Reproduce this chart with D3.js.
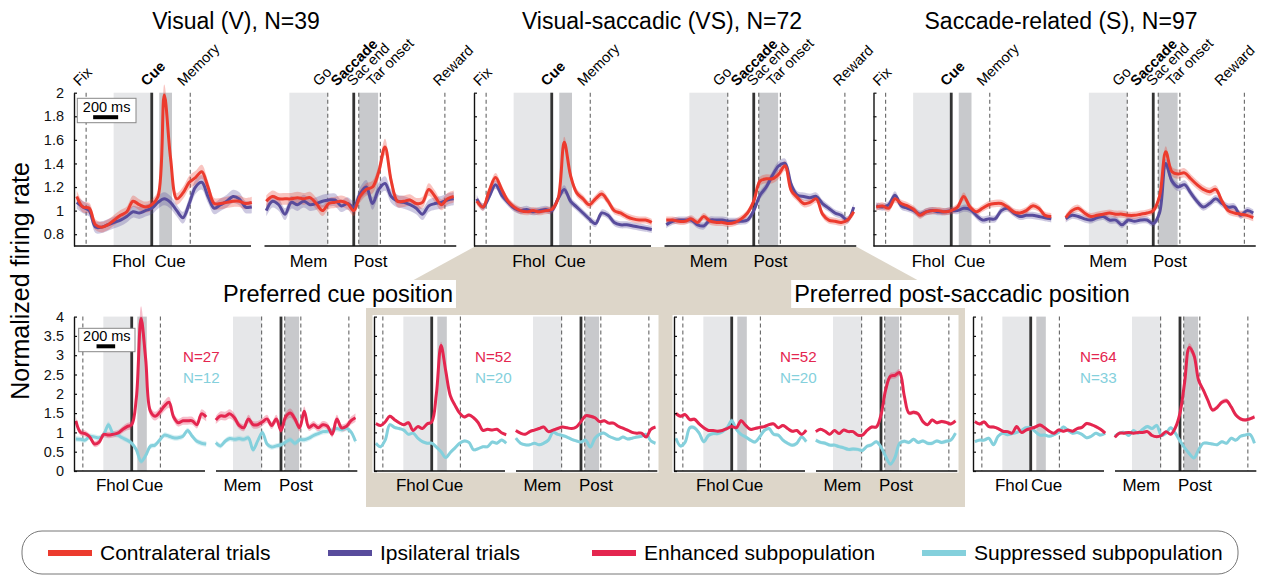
<!DOCTYPE html>
<html>
<head>
<meta charset="utf-8">
<script src="https://cdn.jsdelivr.net/npm/d3@7"></script>
<style>
  body { margin: 0; background: #fff; }
  svg { display: block; font-family: "Liberation Sans", Arial, Helvetica, sans-serif; }
</style>
</head>
<body>
<svg id="fig" width="1263" height="578"></svg>
<script>
// ---------- data (times in ms, values = normalized firing rate) ----------
const cueT = [-600,-550,-500,-450,-400,-350,-300,-250,-200,-150,-100,-50,0,50,100,150,200,250,300,350,400,450,500,550,600,650,700,750,800];
const sacT = [-700,-650,-600,-550,-500,-450,-400,-350,-300,-250,-200,-150,-100,-50,0,50,100,150,200,250,300,350,400,450,500,550,600,650,700,750,800];

const topTitles = ["Visual (V), N=39", "Visual-saccadic (VS), N=72", "Saccade-related (S), N=97"];
const bottomTitles = ["Preferred cue position", "Preferred post-saccadic position"];

// top row: contralateral / ipsilateral, for V, VS, S
const contraCue = [
  [1.12,1.03,1.02,0.88,0.86,0.88,0.92,0.96,0.99,1.08,1.05,1.03,1.05,1.12,1.98,1.45,1.10,1.15,1.24,1.28,1.33,1.20,1.06,1.06,1.07,1.08,1.08,1.06,1.07],
  [1.08,1.03,1.17,1.28,1.18,1.08,1.03,1.00,0.99,1.00,0.99,1.00,1.01,1.10,1.58,1.30,1.15,1.10,1.05,1.10,1.14,1.08,1.00,0.98,0.95,0.93,0.92,0.92,0.90],
  [1.03,1.04,1.02,1.10,1.06,1.04,1.01,0.96,0.99,1.00,1.00,0.99,1.00,1.03,1.12,1.03,0.99,1.02,1.05,1.06,1.06,1.03,0.99,0.98,1.00,1.04,1.02,0.96,0.95]
];
const ipsiCue = [
  [1.07,1.03,1.00,0.86,0.86,0.88,0.90,0.92,0.95,0.99,0.98,1.00,1.02,1.07,1.10,1.07,1.00,0.94,1.06,1.20,1.24,1.12,1.02,1.05,1.08,1.12,1.10,1.03,1.03],
  [1.10,1.03,1.12,1.22,1.13,1.07,1.02,1.00,1.01,0.99,1.00,1.01,1.00,1.10,1.18,1.08,1.03,0.98,0.93,0.89,0.98,0.96,0.90,0.88,0.88,0.87,0.86,0.85,0.84],
  [1.04,1.03,1.05,1.13,1.04,1.02,1.00,0.97,0.99,1.00,0.99,0.99,1.00,1.00,1.02,1.01,0.96,0.92,0.93,0.93,1.00,1.02,0.98,0.95,0.96,0.96,0.95,0.94,0.93]
];
const contraSac = [
  [1.08,1.12,1.10,1.10,1.10,1.11,1.10,1.11,1.06,1.00,1.06,1.07,1.08,1.06,1.00,1.12,1.18,1.20,1.33,1.54,1.25,1.08,1.08,1.09,1.06,1.07,1.18,1.12,1.05,1.10,1.12],
  [0.92,0.92,0.91,0.91,0.93,0.90,0.95,0.91,0.90,0.90,0.89,0.90,0.93,0.98,1.08,1.25,1.27,1.27,1.31,1.38,1.17,1.11,1.06,1.07,1.10,0.97,0.92,0.91,0.90,0.92,0.99],
  [0.94,1.00,1.02,0.98,0.95,0.96,0.97,0.98,0.97,0.97,0.96,0.96,0.97,0.98,1.00,1.12,1.50,1.33,1.31,1.32,1.27,1.22,1.18,1.16,1.18,1.08,1.00,0.98,0.97,0.96,0.94]
];
const ipsiSac = [
  [1.00,1.08,1.05,0.97,1.07,1.05,1.08,1.05,1.06,1.08,1.09,1.09,1.04,1.06,1.03,1.14,1.20,1.06,1.18,1.23,1.12,1.08,1.07,1.05,1.02,0.97,1.04,1.06,1.07,1.09,1.10],
  [0.88,0.91,0.92,0.92,0.92,0.88,0.87,0.92,0.92,0.92,0.91,0.91,0.91,0.92,1.00,1.13,1.20,1.30,1.38,1.40,1.22,1.13,1.12,1.11,1.12,1.06,1.02,0.98,0.96,0.92,1.03],
  [0.93,0.96,0.95,0.93,0.92,0.94,0.95,0.92,0.92,0.88,0.92,0.91,0.92,0.92,0.89,0.98,1.40,1.25,1.20,1.22,1.15,1.08,1.03,1.06,1.10,1.06,1.03,1.03,0.96,1.00,0.98]
];
const contraSem = [0.045, 0.03, 0.03];
const ipsiSem = [0.05, 0.03, 0.03];

// bottom row: enhanced / suppressed subpopulations (V, VS | VS, S)
const enhCue = [
  [1.30,1.00,0.97,0.88,0.70,0.75,0.95,0.93,0.95,0.98,1.07,1.15,1.20,1.90,3.95,2.90,1.55,1.42,1.52,1.68,1.78,1.40,1.25,1.30,1.30,1.30,1.20,1.48,1.40],
  [1.23,1.18,1.27,1.42,1.33,1.25,1.20,1.25,1.05,1.15,1.10,1.22,1.27,2.00,3.25,2.60,1.95,1.70,1.50,1.40,1.45,1.38,1.25,1.05,1.08,1.06,1.08,0.99,0.94],
  [1.49,1.42,1.46,1.33,1.34,1.22,1.12,1.05,1.05,1.03,1.05,1.10,1.15,1.12,1.30,1.18,1.08,1.10,1.13,1.15,1.20,1.22,1.12,1.18,1.10,1.03,1.05,0.95,1.06],
  [1.28,1.22,1.27,1.15,1.14,1.10,1.03,1.02,0.98,1.15,1.00,1.06,1.10,1.14,1.19,1.12,1.03,0.98,1.06,1.03,1.06,1.03,1.10,1.13,1.23,1.20,1.15,1.08,0.98]
];
const supCue = [
  [0.83,0.82,0.80,0.90,0.88,0.86,0.95,1.20,0.97,0.93,0.86,0.80,0.72,0.55,0.25,0.40,0.64,0.67,0.80,0.93,0.90,0.86,0.86,0.90,1.05,0.90,0.77,0.72,0.70],
  [0.72,0.63,0.80,1.20,1.13,1.10,1.06,0.95,0.98,0.85,0.76,0.72,0.72,0.62,0.50,0.35,0.48,0.60,0.72,0.78,0.74,0.55,0.58,0.63,0.63,0.75,0.72,0.80,0.72],
  [0.85,0.65,0.75,1.12,1.12,0.98,0.76,0.92,0.97,0.97,1.02,1.12,1.30,1.08,0.95,0.88,0.80,0.75,0.88,1.05,1.10,0.95,0.93,0.80,0.72,0.67,0.72,0.88,0.76],
  [0.76,0.80,0.80,0.85,0.68,0.90,0.98,0.94,0.97,1.00,1.05,1.12,1.12,1.02,0.93,0.93,0.90,0.94,1.00,1.14,1.05,0.98,1.00,0.95,0.86,0.90,0.98,0.93,0.98]
];
const enhSac = [
  [1.32,1.43,1.42,1.48,1.38,1.18,1.12,1.35,1.20,1.20,1.27,1.35,1.18,1.35,1.05,1.40,1.50,1.35,1.12,1.55,1.13,1.20,1.12,1.20,1.16,0.95,1.35,1.12,1.15,1.30,1.38],
  [1.05,0.98,0.95,1.02,1.06,1.10,1.14,1.02,1.06,1.10,1.14,1.12,1.10,1.14,1.28,1.43,1.42,1.38,1.28,1.30,1.24,1.24,1.16,1.11,1.06,1.00,0.98,0.98,0.88,1.08,1.14],
  [1.02,1.08,1.03,0.95,1.05,0.97,1.06,1.02,1.02,0.93,0.93,1.05,1.14,1.14,1.45,2.10,2.45,2.48,2.55,1.95,1.50,1.52,1.48,1.28,1.20,1.32,1.25,1.28,1.26,1.22,1.30],
  [0.87,0.98,0.98,1.00,0.98,1.00,1.00,1.02,0.92,0.89,0.92,1.02,0.95,1.12,1.50,2.30,3.20,3.00,2.35,2.10,1.83,1.58,1.65,1.78,1.82,1.66,1.45,1.35,1.32,1.35,1.40]
];
const supSac = [
  [0.73,0.65,0.77,0.84,0.82,0.84,0.82,0.86,0.55,0.78,1.00,0.70,0.62,0.65,0.68,0.75,0.81,0.72,0.81,0.81,0.85,0.92,0.97,1.02,1.03,1.06,1.10,1.07,1.11,1.02,0.77],
  [0.85,0.72,0.68,0.68,0.72,0.68,0.72,0.80,1.00,0.95,0.92,0.88,0.82,0.78,0.75,0.80,0.62,0.85,0.95,0.98,0.90,0.85,0.82,0.88,0.83,0.85,0.88,0.90,0.95,0.78,0.72],
  [0.80,0.74,0.72,0.67,0.67,0.63,0.60,0.56,0.57,0.56,0.53,0.64,0.68,0.76,0.62,0.38,0.18,0.35,0.72,0.77,0.74,0.82,0.74,0.78,0.72,0.72,0.78,0.74,0.77,0.80,0.98],
  [0.90,0.98,1.00,0.92,1.05,0.98,1.08,1.15,1.10,1.18,0.92,0.98,1.12,0.98,0.78,0.60,0.45,0.34,0.55,0.72,0.72,0.70,0.68,0.76,0.72,0.85,0.80,0.90,0.93,0.95,0.72]
];
const enhSem = [0.08, 0.03, 0.035, 0.035];
const supSem = [0.07, 0.04, 0.05, 0.04];
const enhN = [27, 52, 52, 64];
const supN = [12, 20, 20, 33];

const topTicks = [0.8, 1, 1.2, 1.4, 1.6, 1.8, 2];
const bottomTicks = [0, 0.5, 1, 1.5, 2, 2.5, 3, 3.5, 4];

// task epochs
const cueEvents = [
  {label: "Fix", t: -525, type: "dash"},
  {label: "Cue", t: 0, type: "solid"},
  {label: "Memory", t: 308, type: "dash"}
];
const cueShades = [
  {label: "Fhol", t0: -305, t1: 0, type: "light"},
  {label: "Cue", t0: 60, t1: 162, type: "dark"}
];
const sacEvents = [
  {label: "Go", t: -208, type: "dash"},
  {label: "Saccade", t: 0, type: "solid"},
  {label: "Sac end", t: 40, type: "dash"},
  {label: "Tar onset", t: 213, type: "dash"},
  {label: "Reward", t: 729, type: "dash"}
];
const sacShades = [
  {label: "Mem", t0: -515, t1: -208, type: "light"},
  {label: "Post", t0: 40, t1: 195, type: "dark"}
];
const legendItems = ["Contralateral trials", "Ipsilateral trials", "Enhanced subpopulation", "Suppressed subpopulation"];

// ---------- drawing ----------
const C = {
  contra: "#ec3b2e", ipsi: "#584c9c", enh: "#e4264f", sup: "#84d0dc",
  light: "#e6e7e9", dark: "#c8c9cc", beige: "#ddd6c9"
};
const svg = d3.select("#fig");

// connector between VS panel and the bottom box
svg.append("path")
  .attr("d", "M474,247 L857,247 L965,306 L965,507 L366,507 L366,306 Z")
  .attr("fill", C.beige);

const labelDx = {"Fix": -7, "Cue": -5, "Memory": -7, "Go": -9, "Saccade": -17, "Sac end": -6, "Tar onset": -8, "Reward": -6};

const rows = {
  top: {
    y: d3.scaleLinear().domain([0.7, 2]).range([246, 92.7]),
    k: 0.125, cueDom: [-622, 794], sacDom: [-714, 820], sacOff: 190.5,
    labelY: 267, shadeDx: {Fhol: -4, Cue: 4.5, Mem: 0, Post: 2}, events: true
  },
  bottom: {
    y: d3.scaleLinear().domain([0, 4]).range([471, 316.6]),
    k: 0.0931, cueDom: [-620, 787], sacDom: [-698, 820], sacOff: 142,
    labelY: 491, shadeDx: {Fhol: -5, Cue: 5.5, Mem: -5, Post: 4}, events: false
  }
};

const curve = d3.curveCatmullRom.alpha(0.5);

function drawSub(g, x, row, times, traces, events, shades, extraDx) {
  const y = row.y;
  const [yb, yt] = y.range();
  shades.forEach(s => {
    g.append("rect")
      .attr("x", x(s.t0)).attr("y", yt)
      .attr("width", x(s.t1) - x(s.t0)).attr("height", yb - yt)
      .attr("fill", s.type === "light" ? C.light : C.dark);
  });
  events.forEach(e => {
    const l = g.append("line")
      .attr("x1", x(e.t)).attr("x2", x(e.t))
      .attr("y1", yt).attr("y2", yb);
    if (e.type === "solid") l.attr("stroke", "#333").attr("stroke-width", 2.8);
    else l.attr("stroke", "#666").attr("stroke-width", 1.1).attr("stroke-dasharray", "4,3");
    if (row.events) {
      const dx = labelDx[e.label] + ((extraDx && extraDx[e.label]) || 0);
      g.append("text")
        .attr("transform", `translate(${x(e.t) + dx},${yt - 6}) rotate(-45)`)
        .attr("font-size", 14.5)
        .attr("font-weight", e.type === "solid" ? "bold" : "normal")
        .text(e.label);
    }
  });
  traces.forEach(tr => {
    const pts = times.map((t, i) => [t, tr.values[i]]);
    const area = d3.area()
      .x(d => x(d[0]))
      .y0(d => y(d[1] - tr.sem * Math.max(d[1], 1)))
      .y1(d => y(d[1] + tr.sem * Math.max(d[1], 1)))
      .curve(curve);
    g.append("path").attr("d", area(pts)).attr("fill", tr.color).attr("opacity", 0.3);
  });
  traces.forEach(tr => {
    const pts = times.map((t, i) => [t, tr.values[i]]);
    const line = d3.line().x(d => x(d[0])).y(d => y(d[1])).curve(curve);
    g.append("path").attr("d", line(pts))
      .attr("fill", "none").attr("stroke", tr.color)
      .attr("stroke-width", 3).attr("stroke-linejoin", "round");
  });
  g.append("line")
    .attr("x1", x.range()[0]).attr("x2", x.range()[1])
    .attr("y1", yb).attr("y2", yb)
    .attr("stroke", "#111").attr("stroke-width", 1.4);
  shades.forEach(s => {
    g.append("text")
      .attr("x", (x(s.t0) + x(s.t1)) / 2 + row.shadeDx[s.label])
      .attr("y", row.labelY)
      .attr("text-anchor", "middle")
      .attr("font-size", 17)
      .text(s.label);
  });
}

function drawGroup(row, x0, cueTraces, sacTraces, ticks, showLabels, extraDx) {
  const g = svg.append("g");
  const xc = d3.scaleLinear().domain(row.cueDom)
    .range([x0, x0 + (row.cueDom[1] - row.cueDom[0]) * row.k]);
  const xs = d3.scaleLinear().domain(row.sacDom)
    .range([x0 + row.sacOff, x0 + row.sacOff + (row.sacDom[1] - row.sacDom[0]) * row.k]);
  drawSub(g, xc, row, cueT, cueTraces, cueEvents, cueShades, extraDx);
  drawSub(g, xs, row, sacT, sacTraces, sacEvents, sacShades, extraDx);
  const ax = g.append("g")
    .attr("transform", `translate(${x0},0)`)
    .call(d3.axisLeft(row.y).tickValues(ticks)
      .tickSizeInner(-3).tickSizeOuter(0).tickPadding(10)
      .tickFormat(showLabels ? d3.format("~g") : ""));
  ax.select(".domain").attr("stroke", "#111").attr("stroke-width", 1.4);
  ax.selectAll(".tick line").attr("stroke", "#111").attr("stroke-width", 1.2);
  ax.selectAll(".tick text").attr("font-size", 14.5).attr("font-family", null).attr("fill", "#111");
  return {g, xc, xs};
}

function scaleBar(g, xc, x, y, w, h, barY) {
  g.append("rect").attr("x", x).attr("y", y).attr("width", w).attr("height", h)
    .attr("fill", "#fff").attr("stroke", "#888").attr("stroke-width", 1);
  const len = xc(200) - xc(0);
  g.append("text").attr("x", x + w / 2).attr("y", barY - 3)
    .attr("text-anchor", "middle").attr("font-size", 14.5).text("200 ms");
  g.append("rect").attr("x", x + w / 2 - len / 2 - 1).attr("y", barY)
    .attr("width", len).attr("height", 4).attr("fill", "#000");
}

// top row
const topX0 = [74, 474, 873.5];
const topTitleX = [236, 662, 1061];
topX0.forEach((x0, i) => {
  const cueTr = [
    {values: ipsiCue[i], color: C.ipsi, sem: ipsiSem[i]},
    {values: contraCue[i], color: C.contra, sem: contraSem[i]}
  ];
  const sacTr = [
    {values: ipsiSac[i], color: C.ipsi, sem: ipsiSem[i]},
    {values: contraSac[i], color: C.contra, sem: contraSem[i]}
  ];
  const extra = i === 2 ? {Reward: -18} : null;
  const grp = drawGroup(rows.top, x0, cueTr, sacTr, topTicks, i === 0, extra);
  if (i === 0) scaleBar(grp.g, grp.xc, 77.3, 98.3, 58.7, 24.4, 115.2);
  svg.append("text").attr("x", topTitleX[i]).attr("y", 29)
    .attr("text-anchor", "middle").attr("font-size", 23).text(topTitles[i]);
});

// bottom row
const botX0 = [74, 374, 674, 973];
[1, 2].forEach(i => {
  svg.append("rect").attr("x", botX0[i] - 1.5).attr("y", 315)
    .attr("width", 286).attr("height", 157.7).attr("fill", "#fff");
});
const botTitleX = [338, 962];
botTitleX.forEach((cx, i) => {
  const tg = svg.append("g");
  const bg = tg.append("rect").attr("fill", "#fff");
  const t = tg.append("text").attr("x", cx).attr("y", 302)
    .attr("text-anchor", "middle").attr("font-size", 23.5).text(bottomTitles[i]);
  const bb = t.node().getBBox();
  bg.attr("x", bb.x - 3).attr("y", bb.y - 1).attr("width", bb.width + 6).attr("height", bb.height + 2);
});
const nDx = [109, 101, 106, 107];
botX0.forEach((x0, i) => {
  const cueTr = [
    {values: supCue[i], color: C.sup, sem: supSem[i]},
    {values: enhCue[i], color: C.enh, sem: enhSem[i]}
  ];
  const sacTr = [
    {values: supSac[i], color: C.sup, sem: supSem[i]},
    {values: enhSac[i], color: C.enh, sem: enhSem[i]}
  ];
  const grp = drawGroup(rows.bottom, x0, cueTr, sacTr, bottomTicks, i === 0, null);
  if (i === 0) scaleBar(grp.g, grp.xc, 78.7, 328.3, 56.3, 23.4, 344.3);
  grp.g.append("text").attr("x", x0 + nDx[i]).attr("y", 362)
    .attr("font-size", 15.2).attr("fill", C.enh).text("N=" + enhN[i]);
  grp.g.append("text").attr("x", x0 + nDx[i]).attr("y", 383)
    .attr("font-size", 15.2).attr("fill", C.sup).text("N=" + supN[i]);
});

// y label
svg.append("text")
  .attr("transform", "translate(29,281) rotate(-90)")
  .attr("text-anchor", "middle").attr("font-size", 25)
  .text("Normalized firing rate");

// legend
svg.append("rect").attr("x", 22).attr("y", 531).attr("width", 1216).attr("height", 43)
  .attr("rx", 20).attr("fill", "#fff").attr("stroke", "#777").attr("stroke-width", 1);
const legColors = [C.contra, C.ipsi, C.enh, C.sup];
const legX = [48, 328, 592, 922];
legendItems.forEach((name, i) => {
  svg.append("rect").attr("x", legX[i]).attr("y", 550).attr("width", 44).attr("height", 6)
    .attr("fill", legColors[i]);
  svg.append("text").attr("x", legX[i] + 52).attr("y", 560)
    .attr("font-size", 21).text(name);
});
</script>
</body>
</html>
